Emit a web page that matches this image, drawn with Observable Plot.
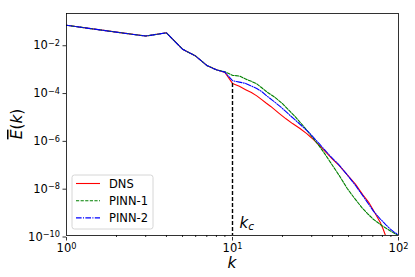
<!DOCTYPE html>
<html><head><meta charset="utf-8">
<script src="https://cdn.jsdelivr.net/npm/d3@7"></script>
<script src="https://cdn.jsdelivr.net/npm/@observablehq/plot@0.6"></script>
<style>
body{margin:0;background:#fff}
#chart svg{font-family:"DejaVu Sans",sans-serif;background:#fff}
</style>
</head><body><div id="chart"></div>
<script>
// ---- data ----
const kDNS = [1,2,3,4,5,6,7,8,9,10,11,12,13,14,15,16,17,19,21,23,25.5,28,30,33,37,40,44,49,55,61,66,71,75,78,81,84];
const eDNS = [6.2e-2,3.2e-2,2.2e-2,3.0e-2,6.2e-3,3.2e-3,1.3e-3,8.5e-4,6.6e-4,2.3e-4,1.74e-4,1.26e-4,9.5e-5,6.9e-5,4.8e-5,3.4e-5,2.5e-5,1.32e-5,7.6e-6,4.8e-6,3.0e-6,1.82e-6,1.2e-6,6.3e-7,2.8e-7,1.58e-7,8.3e-8,3.5e-8,1.41e-8,5.0e-9,2.5e-9,1.05e-9,5.4e-10,3.3e-10,1.78e-10,8.9e-11];

const kP1 = [1,2,3,4,5,6,7,8,9,10,11,12,13,14,15,16,18,20,22,24,27,30,33,36,39,44,49,54,60,65,70,75,80,89,95,100];
const eP1 = [6.2e-2,3.2e-2,2.2e-2,3.0e-2,6.2e-3,3.2e-3,1.3e-3,8.5e-4,7.1e-4,5.0e-4,4.7e-4,3.5e-4,2.8e-4,2.2e-4,1.51e-4,1.05e-4,6.0e-5,3.3e-5,1.66e-5,8.9e-6,3.5e-6,1.41e-6,6.0e-7,2.6e-7,1.12e-7,3.2e-8,9.5e-9,3.8e-9,1.51e-9,8.3e-10,5.0e-10,3.5e-10,2.5e-10,1.58e-10,1.2e-10,1.0e-10];

const kP2 = [1,2,3,4,5,6,7,8,9,10,11,12,14,15,16,17.5,19.5,22,25.5,29,33.5,38.6,43.5,49,55,61.5,67,71,77.5,84,89,95,100];
const eP2 = [6.2e-2,3.2e-2,2.2e-2,3.0e-2,6.2e-3,3.2e-3,1.3e-3,8.5e-4,6.8e-4,3.0e-4,2.6e-4,2.3e-4,1.41e-4,1.05e-4,7.1e-5,4.4e-5,2.4e-5,1.12e-5,4.5e-6,2.0e-6,6.6e-7,2.2e-7,9.5e-8,3.5e-8,1.26e-8,4.2e-9,1.78e-9,1.0e-9,5.0e-10,2.8e-10,1.9e-10,1.32e-10,1.07e-10];

const seriesNames = ["DNS","PINN-1","PINN-2"];
const seriesColors = ["#ff0000","#008000","#0000ff"];
const seriesDash = [null,"3.2,1.4","5.6,1.4,1,1.4"];

const xMajor = [1,10,100];
const xMinor = [2,3,4,5,6,7,8,9,20,30,40,50,60,70,80,90];
const yMajor = [1e-2,1e-4,1e-6,1e-8,1e-10];
const kc = 10;

// ---- build tables ----
const toRows = (ks, es, name) => ks.map((k,i)=>({k, E: es[i], series: name}));
const rows = [
  toRows(kDNS,eDNS,seriesNames[0]),
  toRows(kP1,eP1,seriesNames[1]),
  toRows(kP2,eP2,seriesNames[2])
];
const eKc = eDNS[kDNS.indexOf(kc)];

const supFmt = d => "10^" + String(Math.round(Math.log10(d))).replace("-","\u2212");

const chart = Plot.plot({
  width: 415, height: 277,
  marginLeft: 66, marginRight: 17, marginTop: 13, marginBottom: 42,
  style: {fontFamily: "DejaVu Sans, sans-serif", fontSize: "11.5px", color: "black"},
  x: {type: "log", domain: [1,100]},
  y: {type: "log", domain: [1e-10, 0.193]},
  marks: [
    Plot.axisX({ticks: xMinor, tickSize: 2, tickFormat: () => "", label: null, strokeWidth: 0.8}),
    Plot.axisX({ticks: xMajor, tickSize: 3.5, tickPadding: 3, tickFormat: supFmt, label: null, strokeWidth: 0.8, dy: 2, fontSize: 11.5}),
    Plot.axisY({ticks: yMajor, tickSize: 3.5, tickPadding: 3, tickFormat: supFmt, label: null, strokeWidth: 0.8, dy: 1.5, fontSize: 11.5}),
    ...rows.map((r,i) => Plot.line(r, {x: "k", y: "E", stroke: seriesColors[i], strokeWidth: 1.1, strokeDasharray: seriesDash[i], clip: true})),
    Plot.ruleX([kc], {y1: eKc, y2: 1e-10, stroke: "black", strokeWidth: 1.4, strokeDasharray: "4.2,1.8"}),
    Plot.frame({stroke: "black", strokeWidth: 0.8})
  ]
});
document.getElementById("chart").appendChild(chart);

const svg = d3.select(chart);
// superscript tick labels
svg.selectAll('g[aria-label="x-axis tick label"] text, g[aria-label="y-axis tick label"] text').each(function(){
  const t = d3.select(this);
  const s = t.text();
  if (!s.includes("^")) return;
  const [base, ex] = s.split("^");
  t.text(null);
  t.append("tspan").text(base);
  t.append("tspan").attr("dy","-0.42em").style("font-size","8.2px").text(ex);
});

const xs = chart.scale("x"), ys = chart.scale("y");
const x0 = xs.range[0], x1 = xs.range[1];
const y0 = ys.range[0], y1 = ys.range[1];

// axis labels
svg.append("text")
  .attr("x", (x0+x1)/2).attr("y", 268)
  .attr("text-anchor","middle").style("font-size","15.4px").style("font-style","italic")
  .text("k");
const yl = svg.append("text")
  .attr("transform", `translate(22,${(y0+y1)/2}) rotate(-90)`)
  .attr("text-anchor","middle").style("font-size","15.4px");
yl.append("tspan").style("font-style","italic").style("text-decoration","overline").text("E");
yl.append("tspan").text("(");
yl.append("tspan").style("font-style","italic").text("k");
yl.append("tspan").text(")");

// k_c annotation
const kcx = xs.apply(kc);
const kcT = svg.append("text")
  .attr("x", kcx + 7.5).attr("y", 228).attr("text-anchor","start")
  .style("font-size","15px");
kcT.append("tspan").style("font-style","italic").text("k");
kcT.append("tspan").attr("dy","2").style("font-style","italic").style("font-size","10.5px").text("c");

// legend
const lg = svg.append("g").attr("text-anchor","start");
lg.append("rect").attr("x",72).attr("y",175).attr("width",81).attr("height",54)
  .attr("rx",2.5).attr("fill","white").attr("fill-opacity",0.8)
  .attr("stroke","#cccccc").attr("stroke-width",0.8);
seriesNames.forEach((n,i)=>{
  const yy = 183.5 + i*17.2;
  lg.append("line").attr("x1",76).attr("x2",100).attr("y1",yy).attr("y2",yy)
    .attr("stroke",seriesColors[i]).attr("stroke-width",1.1)
    .attr("stroke-dasharray",seriesDash[i]);
  lg.append("text").attr("x",109).attr("y",yy+4).attr("text-anchor","start")
    .style("font-size","11.5px").text(n);
});
</script>
</body></html>
